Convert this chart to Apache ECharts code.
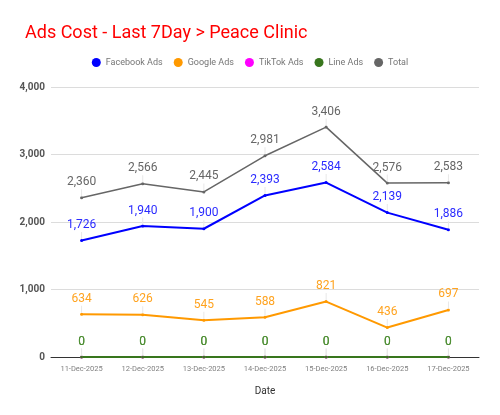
<!DOCTYPE html>
<html>
<head>
<meta charset="utf-8">
<script src="https://cdn.jsdelivr.net/npm/echarts@6/dist/echarts.min.js"></script>
<style>
  html, body { margin: 0; padding: 0; background: #fff; }
  #chart { width: 500px; height: 415px; }
</style>
</head>
<body>
<div id="chart"></div>
<script>
// data
const dates = ["11-Dec-2025", "12-Dec-2025", "13-Dec-2025", "14-Dec-2025", "15-Dec-2025", "16-Dec-2025", "17-Dec-2025"];
const facebookAds = [1726, 1940, 1900, 2393, 2584, 2139, 1886];
const googleAds = [634, 626, 545, 588, 821, 436, 697];
const tiktokAds = [0, 0, 0, 0, 0, 0, 0];
const lineAds = [0, 0, 0, 0, 0, 0, 0];
const total = [2360, 2566, 2445, 2981, 3406, 2576, 2583];
const yTicks = [0, 1000, 2000, 3000, 4000];

const FONT = "Roboto, 'Noto Sans', sans-serif";

function makeSeries(name, data, color, labelColor, width) {
    return {
        name: name,
        type: "line",
        data: data,
        symbol: "circle",
        symbolSize: 3,
        itemStyle: { color: color },
        lineStyle: { color: color, width: width },
        label: {
            show: true,
            position: "top",
            distance: 0,
            color: labelColor,
            fontFamily: FONT,
            fontSize: 12,
            // value on top, thin leader line under it down to the point
            formatter: (p) => "{v|" + p.value.toLocaleString("en-US") + "}\n{l|}",
            rich: {
                v: { color: labelColor, fontFamily: FONT, fontSize: 12, lineHeight: 14 },
                l: { width: 1, height: 7, backgroundColor: "#e8e8e8", lineHeight: 7 },
            },
        },
        emphasis: { disabled: true },
    };
}

const chart = echarts.init(document.getElementById("chart"));
chart.setOption({
    animation: false,
    title: {
        text: "Ads Cost - Last 7Day > Peace Clinic",
        left: 20,
        top: 19,
        textStyle: { color: "#ff0000", fontSize: 18, fontWeight: "normal", fontFamily: FONT },
    },
    legend: {
        top: 53,
        left: "center",
        icon: "circle",
        itemWidth: 9,
        itemHeight: 9,
        itemGap: 11,
        textStyle: { color: "#757575", fontSize: 9, fontFamily: FONT },
        data: ["Facebook Ads", "Google Ads", "TikTok Ads", "Line Ads", "Total"],
    },
    grid: { left: 51, right: 21, top: 87, bottom: 58 },
    xAxis: {
        type: "category",
        data: dates,
        name: "Date",
        nameLocation: "middle",
        nameGap: 29,
        nameTextStyle: { color: "#333", fontSize: 10, fontFamily: FONT },
        axisLine: { lineStyle: { color: "#333", width: 1 } },
        axisTick: { show: false },
        axisLabel: { color: "#808080", fontSize: 7.5, fontFamily: FONT, interval: 0, margin: 8 },
    },
    yAxis: {
        type: "value",
        min: yTicks[0],
        max: yTicks[yTicks.length - 1],
        interval: 1000,
        axisLabel: {
            color: "#555",
            fontSize: 10,
            fontWeight: "bold",
            fontFamily: FONT,
            margin: 6,
            formatter: (v) => v.toLocaleString("en-US"),
        },
        splitLine: { lineStyle: { color: "#dcdcdc" } },
    },
    series: [
        makeSeries("Facebook Ads", facebookAds, "#0000ff", "#2b2bff", 2),
        makeSeries("Google Ads", googleAds, "#ff9900", "#ffa31f", 2),
        makeSeries("TikTok Ads", tiktokAds, "#ff00ff", "#4f8f35", 2),
        makeSeries("Line Ads", lineAds, "#38761d", "#4f8f35", 2),
        makeSeries("Total", total, "#666666", "#666666", 1.5),
    ],
});
</script>
</body>
</html>
